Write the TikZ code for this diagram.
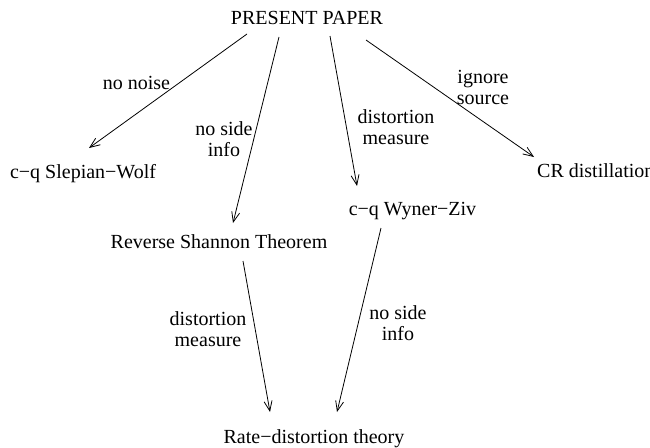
\documentclass[tikz,border=0pt]{standalone}
\usepackage{fontspec}
\setmainfont{Liberation Serif}
\usetikzlibrary{calc,arrows.meta}
\begin{document}
\begin{tikzpicture}[x=1pt,y=-1pt,
  txt/.style={inner sep=0pt,font=\fontsize{20}{21}\selectfont},
  lbl/.style={txt,align=center},
  arr/.style={line width=0.8pt,-{Straight Barb[length=10pt,width=8pt,line width=0.8pt]}}]
\useasboundingbox (0,0) rectangle (650,447);
\node[txt,anchor=base] (pp) at (307,24) {PRESENT PAPER};
\node[txt,anchor=base] (sw) at (83,178) {c−q Slepian−Wolf};
\node[txt,anchor=base west] (cr) at (537,177) {CR distillation};
\node[txt,anchor=base] (wz) at (412.5,215) {c−q Wyner−Ziv};
\node[txt,anchor=base] (rs) at (219,248) {Reverse Shannon Theorem};
\node[txt,anchor=base] (rd) at (314,443) {Rate−distortion theory};
\node[txt,anchor=base] (l1) at (136.5,89) {no noise};
\node[lbl] (l2) at (224,139.5) {no side\\info};
\node[lbl] (l3) at (396,127.5) {distortion\\measure};
\node[lbl] (l4) at (483,87.5) {ignore\\source};
\node[lbl] (l5) at (208,329) {distortion\\measure};
\node[lbl] (l6) at (398,323) {no side\\info};
\draw[arr] ($(pp.base)+(-60,10)$) -- ($(sw.base)+(6,-30)$);
\draw[arr] ($(pp.base)+(-28,13)$) -- ($(rs.base)+(14,-25)$);
\draw[arr] ($(pp.base)+(23,12)$) -- ($(wz.base)+(-55.5,-29)$);
\draw[arr] ($(pp.base)+(59,16)$) -- ($(cr.base west)+(-3,-20)$);
\draw[arr] ($(rs.base)+(24,13)$) -- ($(rd.base)+(-44,-31)$);
\draw[arr] ($(wz.base)+(-31.5,13)$) -- ($(rd.base)+(23,-31)$);
\end{tikzpicture}
\end{document}
